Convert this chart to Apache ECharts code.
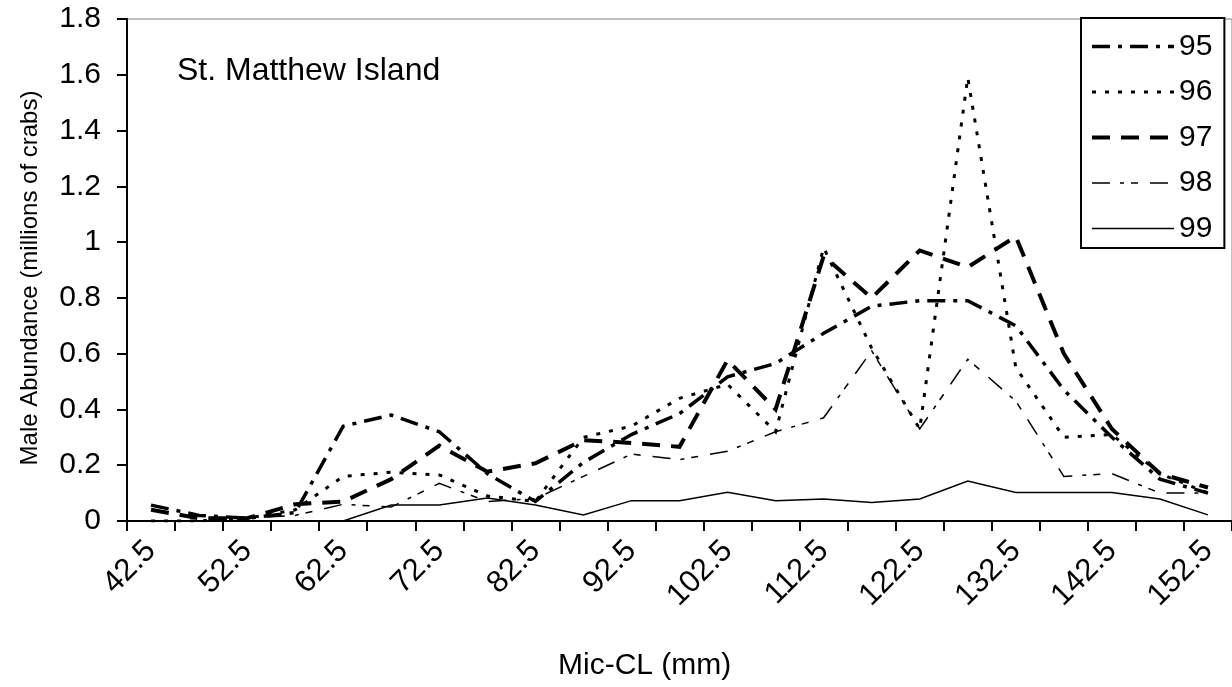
<!DOCTYPE html>
<html>
<head>
<meta charset="utf-8">
<script src="https://cdn.jsdelivr.net/npm/echarts@6/dist/echarts.min.js"></script>
<style>
html,body{margin:0;padding:0;background:#fff;}
#chart{width:1232px;height:687px;}
</style>
</head>
<body>
<div id="chart"></div>
<script>
const categories = ['42.5','47.5','52.5','57.5','62.5','67.5','72.5','77.5','82.5','87.5','92.5','97.5','102.5','107.5','112.5','117.5','122.5','127.5','132.5','137.5','142.5','147.5','152.5'];
const yearNames = ['95','96','97','98','99'];
const s95 = [0.057,0.02,0.01,0.03,0.34,0.38,0.32,0.17,0.07,0.21,0.31,0.385,0.517,0.565,0.673,0.77,0.79,0.79,0.70,0.47,0.30,0.15,0.10];
const s96 = [0.00,0.00,0.01,0.04,0.16,0.175,0.165,0.09,0.07,0.30,0.34,0.44,0.49,0.32,0.98,0.62,0.33,1.59,0.55,0.30,0.31,0.17,0.10];
const s97 = [0.04,0.01,0.01,0.06,0.07,0.15,0.27,0.177,0.207,0.29,0.28,0.266,0.577,0.40,0.95,0.80,0.97,0.91,1.02,0.60,0.33,0.17,0.12];
const s98 = [0.00,0.00,0.01,0.02,0.06,0.05,0.135,0.07,0.08,0.16,0.24,0.22,0.25,0.32,0.37,0.61,0.33,0.58,0.43,0.16,0.17,0.10,0.10];
const s99 = [0,0,0,0,0,0.057,0.057,0.082,0.057,0.022,0.073,0.073,0.103,0.073,0.079,0.066,0.079,0.143,0.102,0.102,0.102,0.079,0.022];
const yTicks = {min:0, max:1.8, interval:0.2};

const FONT = 'Liberation Sans, Arial, Helvetica, sans-serif';
const styles = [
  {width:3.5, type:[18,8,4,8]},
  {width:3, type:[4,9]},
  {width:4, type:[18,11]},
  {width:1.5, type:[18,10,4,7,7,12]},
  {width:1.5, type:'solid'}
];
const dataSets = [s95,s96,s97,s98,s99];

const chart = echarts.init(document.getElementById('chart'), null, {renderer:'canvas'});
chart.setOption({
  animation:false,
  backgroundColor:'#ffffff',
  grid:{left:127, top:19, right:-1, bottom:166, show:true, borderColor:'#808080', borderWidth:1, containLabel:false},
  legend:{
    show:true,
    orient:'vertical', left:1081, top:18,
    data:yearNames,
    itemWidth:82, itemHeight:14, itemGap:14.5,
    padding:[13,12,4,9],
    borderColor:'#000', borderWidth:2,
    backgroundColor:'#fff',
    itemStyle:{opacity:0, borderWidth:0},
    lineStyle:{width:'inherit', type:'inherit', cap:'butt'},
    textStyle:{fontFamily:FONT, fontSize:30, color:'#000', lineHeight:31}
  },
  xAxis:{
    type:'category', data:categories, boundaryGap:true,
    axisLine:{lineStyle:{color:'#000', width:2}},
    axisTick:{show:true, interval:0, length:10, lineStyle:{color:'#000', width:2}},
    axisLabel:{interval:1, rotate:45, fontFamily:FONT, fontSize:31, color:'#000', margin:25},
    splitLine:{show:false}
  },
  yAxis:{
    type:'value', min:yTicks.min, max:yTicks.max, interval:yTicks.interval,
    axisLine:{show:true, lineStyle:{color:'#000', width:2}},
    axisTick:{show:true, length:10, lineStyle:{color:'#000', width:2}},
    axisLabel:{fontFamily:FONT, fontSize:30, color:'#000', margin:26},
    splitLine:{show:false}
  },
  graphic:[
    {type:'text', left:177, top:55, style:{text:'St. Matthew Island', font:'32px ' + FONT, fill:'#000'}},
    {type:'text', left:558, top:651, style:{text:'Mic-CL (mm)', font:'30px ' + FONT, fill:'#000'}},
    {type:'text', x:30, y:278, rotation:Math.PI/2, style:{text:'Male Abundance (millions of crabs)', font:'24px ' + FONT, fill:'#000', align:'center', verticalAlign:'middle'}}
  ],
  series: yearNames.map((n,i)=>({
    name:n, type:'line', data:dataSets[i], symbol:'none', smooth:false,
    lineStyle:{color:'#000', width:styles[i].width, type:styles[i].type, cap:'butt', join:'miter'},
    itemStyle:{color:'#000'},
    emphasis:{disabled:true}
  }))
});
</script>
</body>
</html>
